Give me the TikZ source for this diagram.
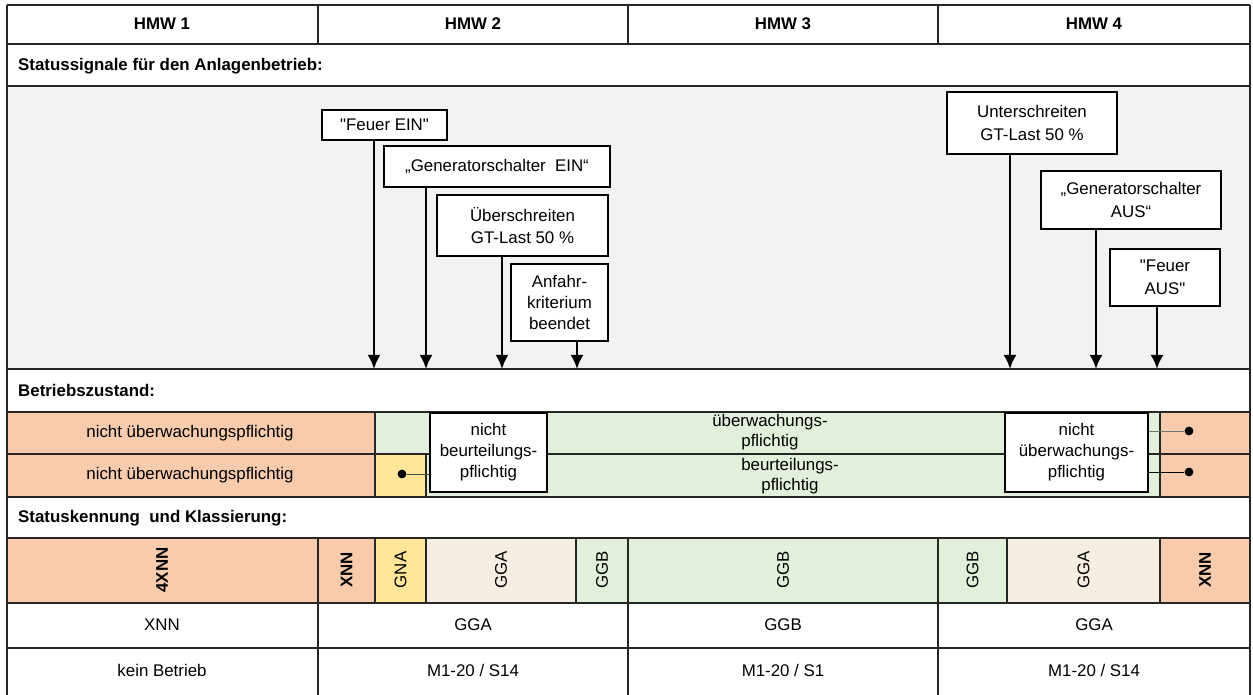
\documentclass[tikz,border=0pt]{standalone}
\usepackage{fontspec}
\setmainfont{Liberation Sans}
\usetikzlibrary{arrows.meta,positioning}

\definecolor{orangefill}{HTML}{F8CBAD}
\definecolor{greenfill}{HTML}{E2EFDA}
\definecolor{yellowfill}{HTML}{FFE699}
\definecolor{beigefill}{HTML}{F6EEE2}
\definecolor{greyfill}{HTML}{F2F2F2}

\begin{document}
\begin{tikzpicture}[x=0.02cm, y=-0.02cm, font=\fontsize{9.6}{13}\selectfont]

% Define styles
\tikzstyle{sigbox} = [rectangle, draw, fill=white, align=center, inner sep=1pt, line width=0.8pt]
\tikzstyle{arrow} = [line width=1.5pt, -{Latex[length=8pt,width=7.5pt]}]
\tikzstyle{rule} = [line width=0.7pt, draw=black!85]
\tikzstyle{hmw} = [font=\fontsize{9.6}{13}\selectfont\bfseries]
\tikzstyle{section} = [anchor=west, font=\fontsize{9.6}{13}\selectfont\bfseries]
\tikzstyle{codetxt} = [rotate=90]
\tikzstyle{pdot} = [circle, fill=black, inner sep=0pt, minimum size=5pt]

\useasboundingbox (0,0) rectangle (1253,695);

% Fills
\fill[greyfill] (7,86) rectangle (1250,369);
\fill[orangefill] (7,412) rectangle (375,497);
\fill[greenfill] (375,412) rectangle (1160,497);
\fill[yellowfill] (375,454) rectangle (426,497);
\fill[orangefill] (1160,412) rectangle (1250,497);
\foreach \a/\b/\c in {7/318/orangefill, 318/375/orangefill, 375/426/yellowfill,
  426/576/beigefill, 576/628/greenfill, 628/938/greenfill, 938/1007/greenfill,
  1007/1160/beigefill, 1160/1250/orangefill}
  \fill[\c] (\a,538) rectangle (\b,603);

% Table lines
\foreach \y in {5,44,86,369,412,454,497,538,603,648}
  \draw[rule] (7,\y) -- (1250,\y);
\draw[rule] (7,5) -- (7,695);
\draw[rule] (1250,5) -- (1250,695);
\foreach \x in {318,628,938} {
  \draw[rule] (\x,5) -- (\x,44);
  \draw[rule] (\x,603) -- (\x,695);
}
\foreach \x in {318,375,426,576,628,938,1007,1160}
  \draw[rule] (\x,538) -- (\x,603);
\draw[rule] (375,412) -- (375,497);
\draw[rule] (426,454) -- (426,497);
\draw[rule] (1160,412) -- (1160,497);

% Header
\node[hmw] (hmw1) at (162,24) {HMW 1};
\node[hmw] (hmw2) at (473,24) {HMW 2};
\node[hmw] (hmw3) at (783,24) {HMW 3};
\node[hmw] (hmw4) at (1094,24) {HMW 4};

% Sections
\node[section] (status) at (12,66) {Statussignale für den Anlagenbetrieb:};
\node[section] (betrieb) at (12,390) {Betriebszustand:};
\node[section] (kennung) at (12,518) {Statuskennung\ \ und Klassierung:};

% Signal boxes
\node[sigbox, minimum width=2.5cm, minimum height=0.6cm] (feuerein) at (384.5,125) {\textquotedbl Feuer EIN\textquotedbl};
\node[sigbox, minimum width=4.52cm, minimum height=0.82cm] (genein) at (497,166.5) {„Generatorschalter\ \ EIN“};
\node[sigbox, minimum width=3.42cm, minimum height=1.22cm] (gtueber) at (522.5,225.5) {Überschreiten\\GT-Last\ 50\ \%};
\node[sigbox, minimum width=1.94cm, minimum height=1.54cm, font=\fontsize{9.6}{12}\selectfont] (anfahr) at (559.5,302.5) {Anfahr-\\kriterium\\beendet};
\node[sigbox, minimum width=3.4cm, minimum height=1.24cm] (gtunter) at (1032,123) {Unterschreiten\\GT-Last\ 50\ \%};
\node[sigbox, minimum width=3.6cm, minimum height=1.16cm] (genaus) at (1131,200) {„Generatorschalter\\AUS“};
\node[sigbox, minimum width=2.2cm, minimum height=1.14cm] (feueraus) at (1165,277.5) {\textquotedbl Feuer\\AUS\textquotedbl};

% Arrow targets
\coordinate (t1) at (374,369);
\coordinate (t2) at (426,369);
\coordinate (t3) at (502,369);
\coordinate (t4) at (577,369);
\coordinate (t5) at (1010,369);
\coordinate (t6) at (1096,369);
\coordinate (t7) at (1157,369);

% Arrows
\draw[arrow] (feuerein.south -| t1) -- (t1);
\draw[arrow] (genein.south -| t2) -- (t2);
\draw[arrow] (gtueber.south -| t3) -- (t3);
\draw[arrow] (anfahr.south -| t4) -- (t4);
\draw[arrow] (gtunter.south -| t5) -- (t5);
\draw[arrow] (genaus.south -| t6) -- (t6);
\draw[arrow] (feueraus.south -| t7) -- (t7);

% Betriebszustand
\node (nue1) at (190,433) {nicht überwachungspflichtig};
\node (nue2) at (190,475) {nicht überwachungspflichtig};
\node[align=center, font=\fontsize{9.6}{11}\selectfont] (ueber) at (770,432) {überwachungs-\\pflichtig};
\node[align=center, font=\fontsize{9.6}{11}\selectfont] (beurt) at (790,476) {beurteilungs-\\pflichtig};
\node[sigbox, minimum width=2.34cm, minimum height=1.58cm, font=\fontsize{9.6}{12}\selectfont] (nbeurt) at (488.5,452.5) {nicht\\beurteilungs-\\pflichtig};
\node[sigbox, minimum width=2.86cm, minimum height=1.58cm, font=\fontsize{9.6}{12}\selectfont] (nueber) at (1076.5,452.5) {nicht\\überwachungs-\\pflichtig};

\node[pdot] (d1) at (402,474) {};
\node[pdot] (d2) at (1189,431) {};
\node[pdot] (d3) at (1189,472) {};
\draw[black!70] (d1) -- (nbeurt.west |- d1);
\draw[black!55] (nueber.east |- d2) -- (d2);
\draw (nueber.east |- d3) -- (d3);

% Klassierung
\node[codetxt, font=\fontsize{9.6}{13}\selectfont\bfseries] (k1) at (162,570) {4XNN};
\node[codetxt, font=\fontsize{9.6}{13}\selectfont\bfseries] (k2) at (346.5,570) {XNN};
\node[codetxt] (k3) at (400.5,570) {GNA};
\node[codetxt] (k4) at (501,570) {GGA};
\node[codetxt] (k5) at (602,570) {GGB};
\node[codetxt] (k6) at (783,570) {GGB};
\node[codetxt] (k7) at (972.5,570) {GGB};
\node[codetxt] (k8) at (1083.5,570) {GGA};
\node[codetxt, font=\fontsize{9.6}{13}\selectfont\bfseries] (k9) at (1205,570) {XNN};

\node (s1) at (162,625) {XNN};
\node (s2) at (473,625) {GGA};
\node (s3) at (783,625) {GGB};
\node (s4) at (1094,625) {GGA};

\node (m1) at (162,670) {kein Betrieb};
\node (m2) at (473,670) {M1-20\ /\ S14};
\node (m3) at (783,670) {M1-20\ /\ S1};
\node (m4) at (1094,670) {M1-20\ /\ S14};

\end{tikzpicture}
\end{document}
